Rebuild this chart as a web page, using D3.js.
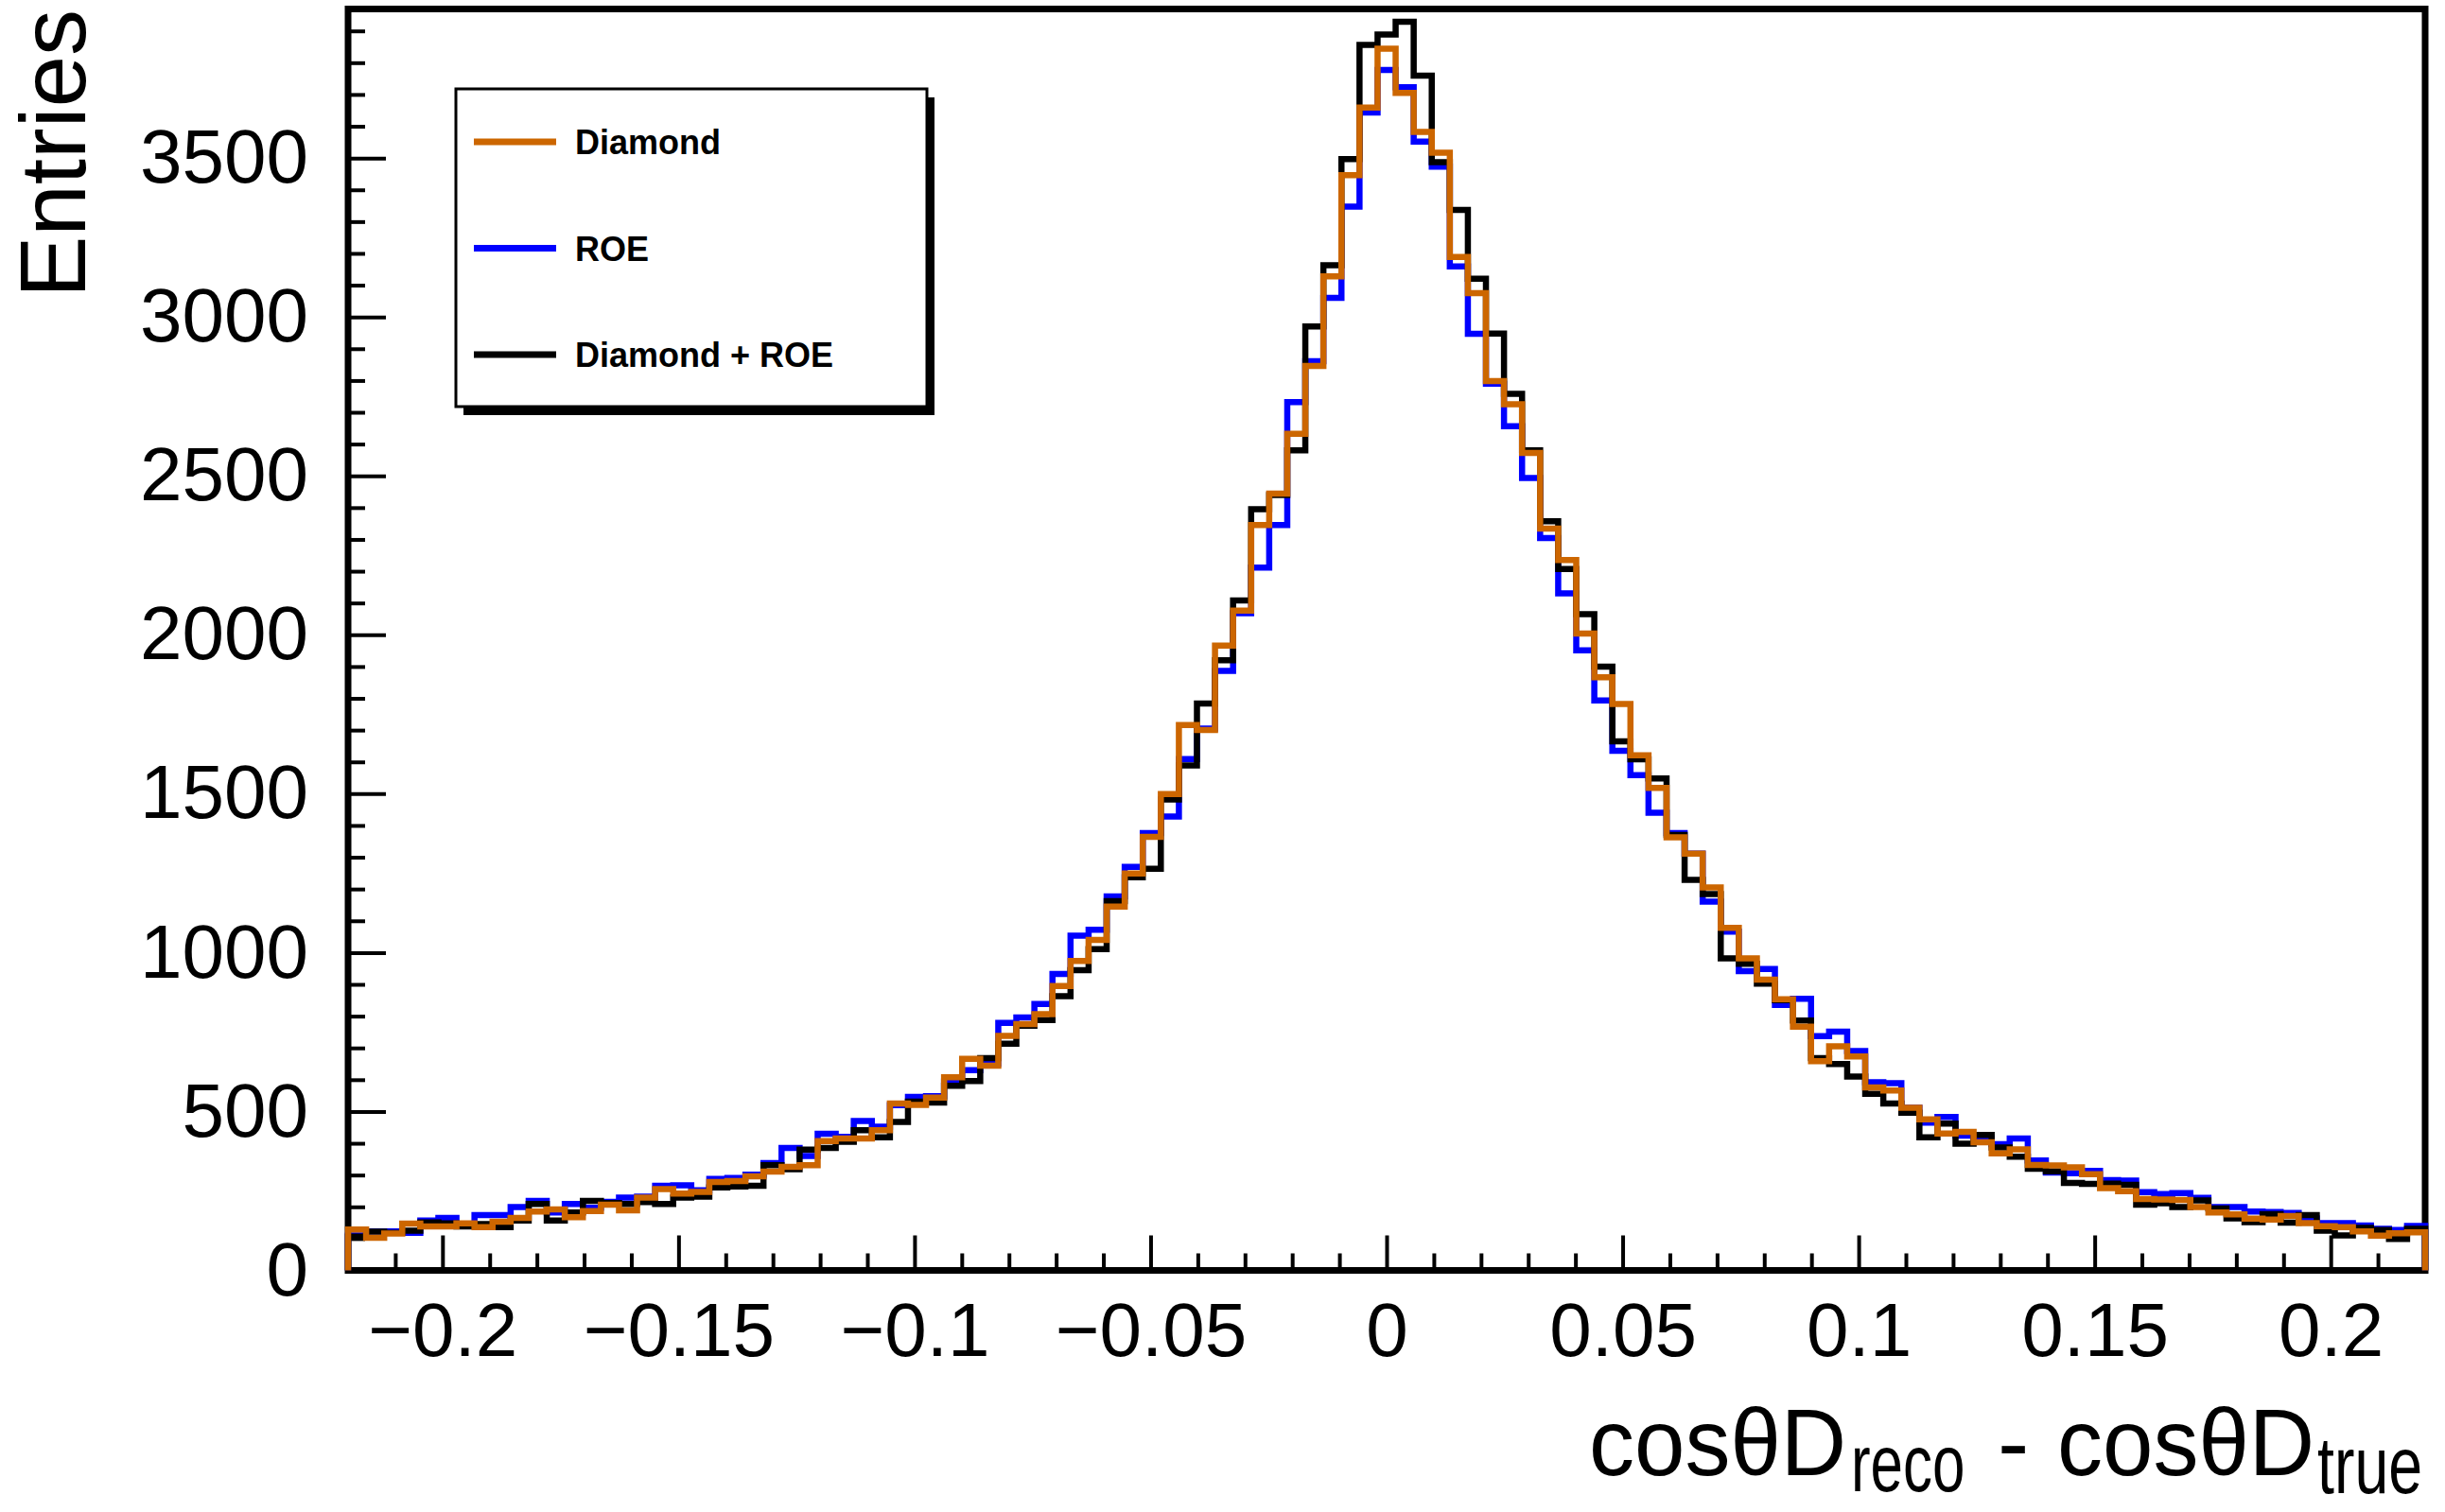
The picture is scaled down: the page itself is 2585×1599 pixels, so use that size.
<!DOCTYPE html>
<html>
<head>
<meta charset="utf-8">
<script src="https://cdn.jsdelivr.net/npm/d3@7"></script>
<style>
  body { margin: 0; background: #fff; }
  svg { display: block; }
  text { font-family: "Liberation Sans", Arial, Helvetica, sans-serif; fill: #000; }
</style>
</head>
<body>
<svg id="chart" width="2585" height="1599"></svg>
<script>
// histogram binning: 115 bins from -0.22 to 0.22
var xMin = -0.22, xMax = 0.22, nBins = 115;
var yMax = 3969;

// bin contents
var diamond = [
  129, 103, 116, 147, 138, 138, 148, 136, 153, 165,
  185, 192, 167, 187, 207, 189, 229, 256, 242, 247,
  278, 281, 296, 311, 326, 331, 407, 415, 415, 441,
  525, 521, 544, 608, 666, 644, 738, 775, 806, 895,
  974, 1040, 1145, 1249, 1364, 1499, 1716, 1700, 1966, 2076,
  2345, 2444, 2632, 2846, 3128, 3446, 3659, 3844, 3705, 3582,
  3517, 3189, 3075, 2798, 2725, 2572, 2334, 2235, 2004, 1866,
  1782, 1621, 1518, 1363, 1311, 1205, 1078, 982, 915, 853,
  767, 658, 705, 673, 576, 566, 512, 475, 431, 436,
  403, 368, 381, 332, 330, 324, 303, 259, 249, 225,
  223, 222, 199, 182, 176, 163, 160, 171, 149, 139,
  136, 123, 109, 117, 120
];
var roe = [
  110, 123, 123, 118, 157, 165, 145, 174, 174, 199,
  219, 182, 209, 197, 216, 229, 232, 266, 268, 252,
  288, 291, 301, 338, 385, 360, 430, 420, 470, 452,
  520, 546, 548, 594, 630, 650, 779, 796, 838, 933,
  1053, 1072, 1177, 1270, 1376, 1428, 1609, 1705, 1886, 2068,
  2211, 2345, 2732, 2861, 3060, 3347, 3643, 3777, 3723, 3552,
  3473, 3159, 2947, 2790, 2656, 2493, 2304, 2130, 1951, 1793,
  1635, 1558, 1440, 1376, 1311, 1160, 1066, 942, 948, 835,
  855, 737, 751, 690, 592, 589, 512, 465, 483, 424,
  416, 397, 415, 346, 308, 306, 313, 284, 283, 246,
  240, 243, 228, 199, 199, 185, 184, 181, 164, 149,
  149, 141, 131, 127, 140
];
var combined = [
  106, 122, 118, 125, 151, 148, 138, 146, 136, 157,
  209, 157, 182, 219, 212, 209, 215, 209, 229, 232,
  261, 264, 266, 331, 318, 380, 385, 405, 441, 419,
  467, 531, 528, 581, 596, 668, 713, 770, 788, 863,
  945, 1011, 1162, 1237, 1264, 1482, 1589, 1784, 1920, 2108,
  2395, 2440, 2580, 2970, 3163, 3497, 3856, 3889, 3929, 3759,
  3487, 3337, 3120, 2948, 2758, 2580, 2357, 2207, 2065, 1900,
  1665, 1608, 1548, 1370, 1229, 1184, 982, 965, 902, 850,
  786, 668, 649, 610, 556, 525, 496, 419, 462, 399,
  426, 387, 358, 320, 312, 275, 272, 273, 269, 207,
  211, 199, 220, 195, 164, 152, 177, 150, 174, 125,
  110, 134, 127, 99, 131
];

var xTickValues = [-0.2, -0.15, -0.1, -0.05, 0, 0.05, 0.1, 0.15, 0.2];
var xTickLabels = ["\u22120.2", "\u22120.15", "\u22120.1", "\u22120.05", "0", "0.05", "0.1", "0.15", "0.2"];
var yTickValues = [0, 500, 1000, 1500, 2000, 2500, 3000, 3500];

var series = [
  { name: "ROE", values: roe, color: "#0000ff" },
  { name: "Diamond + ROE", values: combined, color: "#000000" },
  { name: "Diamond", values: diamond, color: "#cc6600" }
];
var legendOrder = ["Diamond", "ROE", "Diamond + ROE"];

var svg = d3.select("#chart"),
  frame = { left: 368, right: 2564, top: 9.5, bottom: 1343.5 };

svg.append("rect").attr("width", 2585).attr("height", 1599).attr("fill", "#fff");

var x = d3.scaleLinear().domain([xMin, xMax]).range([frame.left, frame.right]);
var y = d3.scaleLinear().domain([0, yMax]).range([frame.bottom, frame.top]);

var binWidth = (xMax - xMin) / nBins;

// frame
svg.append("rect")
  .attr("x", frame.left)
  .attr("y", frame.top)
  .attr("width", frame.right - frame.left)
  .attr("height", frame.bottom - frame.top)
  .attr("fill", "none")
  .attr("stroke", "#000")
  .attr("stroke-width", 7);

// minor ticks
var xMinor = d3.range(-21, 22).filter(function (d) { return d % 5 !== 0; }).map(function (d) { return d / 100; });
var yMinor = d3.range(1, 40).filter(function (d) { return d % 5 !== 0; }).map(function (d) { return d * 100; });

function styleAxis(g) {
  g.select(".domain").remove();
  g.selectAll(".tick line").attr("stroke", "#000").attr("stroke-width", 4);
  g.selectAll(".tick text").attr("font-size", 80).attr("font-family", "Liberation Sans, Arial, sans-serif");
}

svg.append("g")
  .attr("transform", "translate(0," + frame.bottom + ")")
  .call(d3.axisBottom(x).tickValues(xMinor).tickFormat("").tickSizeInner(-18).tickSizeOuter(0))
  .call(styleAxis);

svg.append("g")
  .attr("transform", "translate(0," + frame.bottom + ")")
  .call(d3.axisBottom(x).tickValues(xTickValues)
    .tickFormat(function (d, i) { return xTickLabels[i]; })
    .tickSizeInner(-37).tickSizeOuter(0).tickPadding(34))
  .call(styleAxis);

svg.append("g")
  .attr("transform", "translate(" + frame.left + ",0)")
  .call(d3.axisLeft(y).tickValues(yMinor).tickFormat("").tickSizeInner(-18).tickSizeOuter(0))
  .call(styleAxis);

svg.append("g")
  .attr("transform", "translate(" + frame.left + ",0)")
  .call(d3.axisLeft(y).tickValues(yTickValues).tickFormat(d3.format("d"))
    .tickSizeInner(-40).tickSizeOuter(0).tickPadding(42))
  .call(styleAxis);

// histograms as step lines
function stepPoints(values) {
  var pts = [[xMin, 0]];
  values.forEach(function (v, i) { pts.push([xMin + i * binWidth, v]); });
  pts.push([xMax, values[values.length - 1]]);
  pts.push([xMax, 0]);
  return pts;
}

var line = d3.line()
  .x(function (d) { return x(d[0]); })
  .y(function (d) { return y(d[1]); })
  .curve(d3.curveStepAfter);

svg.selectAll(".hist")
  .data(series)
  .enter().append("path")
  .attr("class", "hist")
  .attr("d", function (d) { return line(stepPoints(d.values)); })
  .attr("fill", "none")
  .attr("stroke", function (d) { return d.color; })
  .attr("stroke-width", 6.5)
  .attr("stroke-linejoin", "miter");

// axis titles
svg.append("text")
  .attr("transform", "translate(90,10) rotate(-90)")
  .attr("text-anchor", "end")
  .attr("font-size", 98)
  .text("Entries");

// x title: cos(theta)D_reco - cos(theta)D_true, subscripts narrow as in the original
var xTitle = svg.append("g");
xTitle.append("text").attr("transform", "translate(1680,1560) scale(0.96,1)")
  .attr("font-size", 100).text("cos\u03b8D");
xTitle.append("text").attr("transform", "translate(1957,1577) scale(0.72,1)")
  .attr("font-size", 86).text("reco");
xTitle.append("text").attr("transform", "translate(2112,1560)")
  .attr("font-size", 100).text("-");
xTitle.append("text").attr("transform", "translate(2175,1560) scale(0.96,1)")
  .attr("font-size", 100).text("cos\u03b8D");
xTitle.append("text").attr("transform", "translate(2450,1579) scale(0.75,1)")
  .attr("font-size", 86).text("true");

// legend with shadow
var legend = svg.append("g");
legend.append("rect").attr("x", 490).attr("y", 103).attr("width", 498).attr("height", 336).attr("fill", "#000");
legend.append("rect").attr("x", 482).attr("y", 94).attr("width", 498).attr("height", 336)
  .attr("fill", "#fff").attr("stroke", "#000").attr("stroke-width", 3);

var entries = legend.selectAll(".entry")
  .data(legendOrder.map(function (n) { return series.find(function (s) { return s.name === n; }); }))
  .enter().append("g")
  .attr("class", "entry")
  .attr("transform", function (d, i) { return "translate(0," + (150 + i * 112.5) + ")"; });

entries.append("line")
  .attr("x1", 501).attr("x2", 588)
  .attr("stroke", function (d) { return d.color; })
  .attr("stroke-width", 7);

entries.append("text")
  .attr("x", 608).attr("y", 13)
  .attr("font-size", 36)
  .attr("font-weight", "bold")
  .text(function (d) { return d.name; });
</script>
</body>
</html>
